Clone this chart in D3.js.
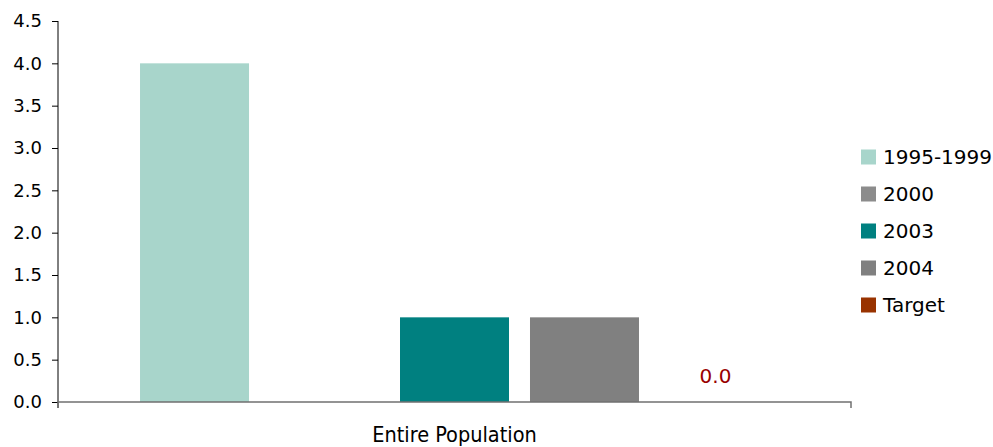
<!DOCTYPE html>
<html><head><meta charset="utf-8">
<script src="https://cdn.jsdelivr.net/npm/d3@7"></script>
<style>body{margin:0;background:#fff}svg{display:block}</style>
</head><body><svg id="c" width="993" height="447"></svg>
<script>
const categories = ["Entire Population"];
const seriesNames = ["1995-1999","2000","2003","2004","Target"];
const seriesValues = [4.0, null, 1.0, 1.0, 0.0];
const seriesColors = ["#A8D5CB","#8C8C8C","#008080","#808080","#993300"];
const yTicks = [0,0.5,1,1.5,2,2.5,3,3.5,4,4.5];
const valueLabels = [null,null,null,null,"0.0"];

const svg = d3.select("#c");
const m = {l:58, r:142, t:21, b:45};
const W = 993, H = 447;
const x0 = d3.scaleBand().domain(categories).range([m.l, W-m.r]);
const x1 = d3.scaleBand().domain(seriesNames).range([x0(categories[0]), x0(categories[0])+x0.bandwidth()])
  .paddingInner(0.1615).paddingOuter(0.631);
const y = d3.scaleLinear().domain([0,4.5]).range([H-m.b, m.t]);

// bars
seriesNames.forEach((s,i)=>{
  const v = seriesValues[i];
  if (v == null) return;
  svg.append("rect").attr("x", x1(s)).attr("width", x1.bandwidth())
    .attr("y", y(v)).attr("height", y(0)-y(v)).attr("fill", seriesColors[i]);
  if (valueLabels[i]) {
    svg.append("text").attr("x", x1(s)+x1.bandwidth()/2+1).attr("y", y(v)-19)
      .attr("text-anchor","middle").attr("font-family","DejaVu Sans").attr("font-size",20)
      .attr("fill","#990000").text(valueLabels[i]);
  }
});

// y axis
const ya = svg.append("g").attr("transform",`translate(${m.l},0)`)
  .call(d3.axisLeft(y).tickValues(yTicks).tickFormat(d3.format(".1f")).tickSize(6).tickPadding(10));
ya.select(".domain").attr("stroke","#000").attr("d",`M0,${y(4.5)}V${y(0)+6}`);
ya.selectAll(".tick line").attr("stroke","#000");
ya.selectAll("text").attr("font-family","DejaVu Sans").attr("font-size",18).attr("fill","#000");

// x axis
const xa = svg.append("g").attr("transform",`translate(0,${y(0)})`)
  .call(d3.axisBottom(x0).tickSize(0).tickPadding(25));
xa.select(".domain").attr("stroke","#707070").attr("stroke-width",1.5)
  .attr("d",`M${m.l},6V0H${W-m.r}V6`);
xa.selectAll("text").attr("font-family","Liberation Sans Narrow, DejaVu Sans Condensed").attr("font-size",21.5).attr("fill","#000");

// legend
const lg = svg.append("g");
seriesNames.forEach((s,i)=>{
  const cy = 157 + i*37;
  lg.append("rect").attr("x",861).attr("y",cy-7.5).attr("width",15).attr("height",15).attr("fill",seriesColors[i]);
  lg.append("text").attr("x",883).attr("y",cy).attr("dy","0.35em")
    .attr("font-family","DejaVu Sans").attr("font-size",20).attr("fill","#000").text(s);
});
</script></body></html>
